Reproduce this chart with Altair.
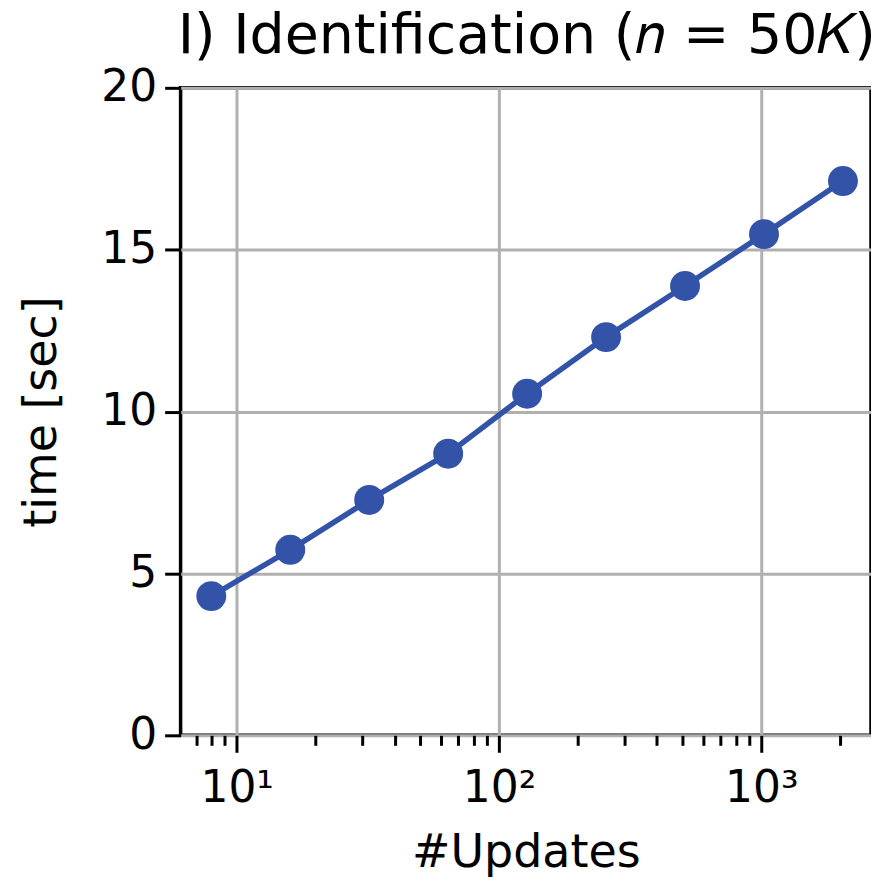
import altair as alt
import pandas as pd

# data
updates = [8, 16, 32, 64, 128, 256, 512, 1024, 2048]
times = [4.3, 5.73, 7.27, 8.7, 10.55, 12.3, 13.88, 15.48, 17.12]

major_ticks = [10, 100, 1000]
minor_ticks = [6, 7, 8, 9, 20, 30, 40, 50, 60, 70, 80, 90,
               200, 300, 400, 500, 600, 700, 800, 900, 2000]
y_ticks = [0, 5, 10, 15, 20]

title_text = "I) Identification (𝑛 = 50𝐾)"
x_title = "#Updates"
y_title = "time [sec]"

df = pd.DataFrame({"updates": updates, "time": times})
title_df = pd.DataFrame({"t": [title_text]})

FONT = "DejaVu Sans"
BLUE = "#3253a8"
W, H = 692, 649
is_major = "abs(log(datum.value)/LN10 - round(log(datum.value)/LN10)) < 1e-6"
label_expr = ("datum.value == 10 ? '10¹' : datum.value == 100 ? '10²' : "
              "datum.value == 1000 ? '10³' : ''")

x = alt.X(
    "updates:Q",
    scale=alt.Scale(type="log", domain=[6.11, 2620], nice=False),
    axis=alt.Axis(
        title=x_title,
        values=sorted(major_ticks + minor_ticks),
        labelExpr=label_expr,
        labelOverlap=False,
        labelFlush=False,
        tickSize={"condition": {"test": is_major, "value": 17}, "value": 10},
        tickWidth=3,
        gridOpacity={"condition": {"test": is_major, "value": 1}, "value": 0},
        labelPadding=14,
        titlePadding=20,
    ),
)
y = alt.Y(
    "time:Q",
    scale=alt.Scale(domain=[0, 20], nice=False),
    axis=alt.Axis(title=y_title, values=y_ticks, tickSize=16, tickWidth=3,
                  labelPadding=8, titlePadding=35),
)

base = alt.Chart(df).encode(x=x, y=y)
line = base.mark_line(color=BLUE, strokeWidth=5.5)
pts = base.mark_circle(color=BLUE, size=900, opacity=1)

title = alt.Chart(title_df).mark_text(
    font=FONT, fontSize=55.5, color="black", align="center", baseline="alphabetic"
).encode(x=alt.value(W / 2 + 1), y=alt.value(-35), text="t:N")

chart = (
    alt.layer(line, pts, title)
    .properties(
        width=W,
        height=H,
        autosize=alt.AutoSizeParams(type="none"),
        padding={"left": 173, "top": 79, "right": 0, "bottom": 142},
    )
    .configure_view(stroke="black", strokeWidth=3.5)
    .configure_axis(
        labelFont=FONT, titleFont=FONT, labelFontSize=44, titleFontSize=46,
        titleFontWeight="normal", labelColor="black", titleColor="black",
        tickColor="black", domain=False, gridColor="#b0b0b0", gridWidth=3,
    )
)

chart.save("out.html", embed_options={"renderer": "svg", "actions": False})
